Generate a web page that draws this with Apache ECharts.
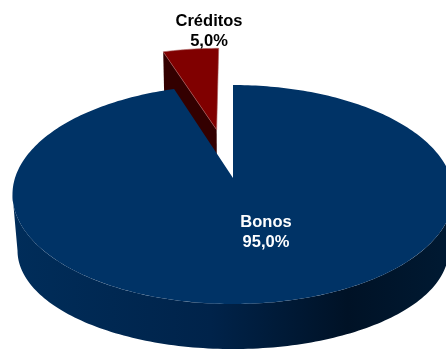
<!DOCTYPE html>
<html><head><meta charset="utf-8">
<style>html,body{margin:0;padding:0;background:#fff}#c{width:446px;height:350px}</style>
<script src="https://cdn.jsdelivr.net/npm/echarts@6/dist/echarts.min.js"></script>
</head><body><div id="c"></div>
<script>
const categories = ['Bonos', 'Créditos'];
const values = [95.0, 5.0];
const explode = [0, 0.49];
const topColors = ['#003366', '#800000'];
const wallColors = ['#001f40', '#330000'];
const labelColors = ['#ffffff', '#000000'];
const labelCenters = [[266, 232], [209, 31]];

const cx = 233, k = 0.151, explodeSkew = 0.008;
const topDisc = {y: 178, rx: 218, ry: 107};
const lowDisc = {y: 236, rx: 213, ry: 96};
const total = values.reduce((a, b) => a + b, 0);
const TAU = Math.PI * 2;
const widest = Math.acos(-k);

function project(d, u, v) {
  const s = 1 / (1 - k * v);
  return [cx + d.rx * u * s, d.y + d.ry * v * s];
}
function rim(d, a, off) {
  return project(d, Math.sin(a) + off[0], -Math.cos(a) + off[1]);
}
function arc(d, a0, a1, off) {
  const n = Math.max(2, Math.ceil(Math.abs(a1 - a0) / 0.02));
  const pts = [];
  for (let i = 0; i <= n; i++) pts.push(rim(d, a0 + (a1 - a0) * i / n, off));
  return pts;
}
function poly(points, fill, z2, stroke) {
  return {type: 'polygon', z2, shape: {points},
    style: {fill, stroke: stroke || null, lineWidth: stroke ? 0.6 : 0}};
}
const sideGradient = new echarts.graphic.LinearGradient(0, 0, 1, 0, [
  {offset: 0, color: '#002d5a'},
  {offset: 0.45, color: '#00234a'},
  {offset: 0.76, color: '#001226'},
  {offset: 1, color: '#001a33'}
]);

function renderItem(params, api) {
  const i = params.dataIndex;
  const before = values.slice(0, i).reduce((a, b) => a + b, 0);
  const a0 = before / total * TAU;
  const a1 = (before + api.value(0)) / total * TAU;
  const mid = (a0 + a1) / 2 - explodeSkew;
  const off = [Math.sin(mid) * explode[i], -Math.cos(mid) * explode[i]];
  const children = [];
  const base = i === 0 ? 10 : 0;
  if (i === 0) {
    const front = arc(topDisc, widest, TAU - widest, off)
      .concat(arc(lowDisc, TAU - widest, widest, off));
    children.push(poly(front, sideGradient, base));
  } else {
    const wall = [project(topDisc, off[0], off[1]), rim(topDisc, a0, off),
      rim(lowDisc, a0, off), project(lowDisc, off[0], off[1])];
    children.push(poly(wall, wallColors[i], base));
  }
  const face = [project(topDisc, off[0], off[1])].concat(arc(topDisc, a0, a1, off));
  children.push(poly(face, topColors[i], base + 1, i === 1 ? '#a85a5a' : null));
  children.push({type: 'text', z2: 20, style: {
    text: categories[i] + '\n' + api.value(0).toFixed(1).replace('.', ',') + '%',
    x: labelCenters[i][0], y: labelCenters[i][1], align: 'center', verticalAlign: 'middle',
    font: 'bold 16.5px "Liberation Sans", Arial, sans-serif', lineHeight: 20, fill: labelColors[i]
  }});
  return {type: 'group', children};
}

const chart = echarts.init(document.getElementById('c'), null, {renderer: 'canvas'});
chart.setOption({
  animation: false,
  series: [{type: 'custom', coordinateSystem: 'none', renderItem, clip: false,
    data: values.map(v => [v]), silent: true}]
});
</script></body></html>
